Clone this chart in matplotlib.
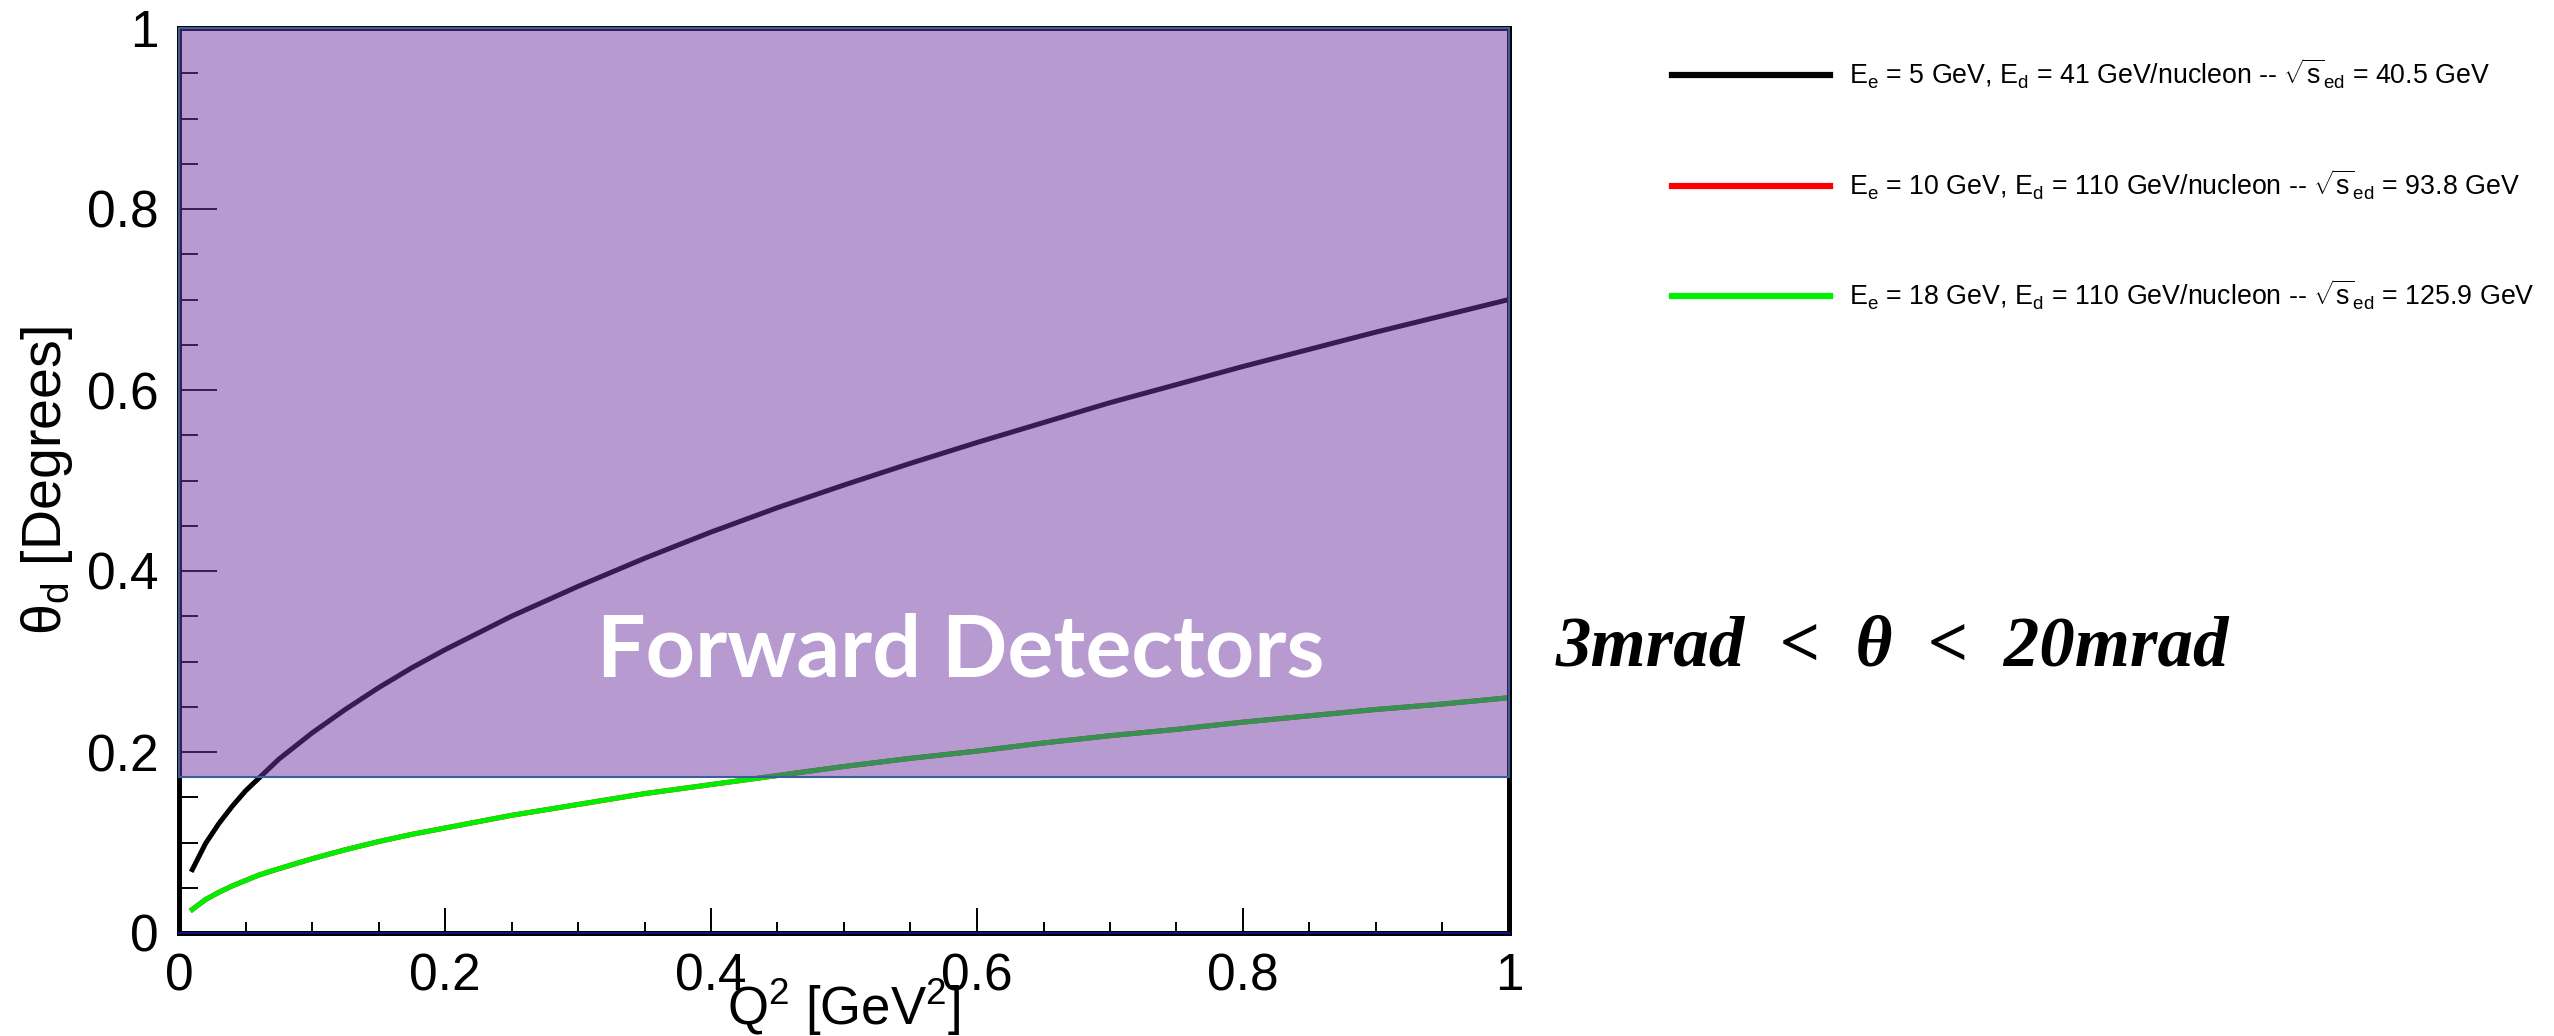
import numpy as np
import matplotlib
matplotlib.use('Agg')
import matplotlib.pyplot as plt
from matplotlib.patches import Rectangle
from matplotlib.ticker import MultipleLocator, FixedLocator, FixedFormatter
from matplotlib.colors import to_rgba

plt.rcParams['font.family'] = ['Liberation Sans', 'DejaVu Sans']
plt.rcParams['mathtext.fontset'] = 'custom'
plt.rcParams['mathtext.rm'] = 'Liberation Sans'
plt.rcParams['mathtext.it'] = 'Liberation Sans:italic'
plt.rcParams['mathtext.bf'] = 'Liberation Sans:bold'

# deuteron scattering angle vs Q^2
q2 = [0.01, 0.02, 0.03, 0.04, 0.05, 0.06, 0.075, 0.1, 0.125, 0.15, 0.175, 0.2, 0.25,
      0.3, 0.35, 0.4, 0.45, 0.5, 0.55, 0.6, 0.65, 0.7, 0.75, 0.8, 0.85, 0.9, 0.95, 1.0]
theta_5x41 = [0.070, 0.099, 0.121, 0.140, 0.157, 0.171, 0.192, 0.221, 0.247, 0.271,
              0.293, 0.313, 0.350, 0.383, 0.414, 0.443, 0.470, 0.495, 0.519, 0.542,
              0.564, 0.586, 0.606, 0.626, 0.645, 0.664, 0.682, 0.700]
theta_10x110 = [0.026, 0.037, 0.045, 0.052, 0.058, 0.064, 0.071, 0.082, 0.092, 0.101,
                0.109, 0.116, 0.130, 0.142, 0.154, 0.164, 0.174, 0.184, 0.193, 0.201,
                0.210, 0.218, 0.225, 0.233, 0.240, 0.247, 0.253, 0.260]
theta_18x110 = [0.026, 0.037, 0.045, 0.052, 0.058, 0.064, 0.071, 0.082, 0.092, 0.101,
                0.109, 0.116, 0.130, 0.142, 0.154, 0.164, 0.174, 0.184, 0.193, 0.201,
                0.210, 0.218, 0.225, 0.233, 0.240, 0.247, 0.253, 0.260]

labels = [r'E$_{\mathrm{e}}$ = 5 GeV, E$_{\mathrm{d}}$ = 41 GeV/nucleon -- $\sqrt{\mathrm{s}}_{\mathrm{ed}}$ = 40.5 GeV',
          r'E$_{\mathrm{e}}$ = 10 GeV, E$_{\mathrm{d}}$ = 110 GeV/nucleon -- $\sqrt{\mathrm{s}}_{\mathrm{ed}}$ = 93.8 GeV',
          r'E$_{\mathrm{e}}$ = 18 GeV, E$_{\mathrm{d}}$ = 110 GeV/nucleon -- $\sqrt{\mathrm{s}}_{\mathrm{ed}}$ = 125.9 GeV']

# forward detector acceptance in mrad
acc_min_mrad = 3
acc_max_mrad = 20

xticks = [0, 0.2, 0.4, 0.6, 0.8, 1.0]
xtick_labels = ['0', '0.2', '0.4', '0.6', '0.8', '1']
yticks = [0, 0.2, 0.4, 0.6, 0.8, 1.0]
ytick_labels = ['0', '0.2', '0.4', '0.6', '0.8', '1']

fig = plt.figure(figsize=(25.54, 10.36), dpi=100)
ax = fig.add_axes([179 / 2554, 103 / 1036, 1330 / 2554, 905 / 1036])

l1, = ax.plot(q2, theta_5x41, color='black', lw=3.6, zorder=2)
l2, = ax.plot(q2, theta_10x110, color='#ff0000', lw=3.6, zorder=2)
l3, = ax.plot(q2, theta_18x110, color='#00ee00', lw=3.6, zorder=2.1)

ax.set_xlim(0, 1)
ax.set_ylim(0, 1)

ax.xaxis.set_major_locator(FixedLocator(xticks))
ax.xaxis.set_major_formatter(FixedFormatter(xtick_labels))
ax.yaxis.set_major_locator(FixedLocator(yticks))
ax.yaxis.set_major_formatter(FixedFormatter(ytick_labels))
ax.xaxis.set_minor_locator(MultipleLocator(0.05))
ax.yaxis.set_minor_locator(MultipleLocator(0.05))
ax.tick_params(axis='both', which='both', direction='in', color='black', width=1.4,
               top=False, right=False, labelsize=37)
ax.tick_params(axis='y', which='major', length=27, pad=15)
ax.tick_params(axis='y', which='minor', length=14)
ax.tick_params(axis='x', which='major', length=18, pad=14)
ax.tick_params(axis='x', which='minor', length=8)

for s in ax.spines.values():
    s.set_linewidth(3.6)
    s.set_color('black')
ax.axhline(0, color='#12128c', lw=1.3, zorder=5, clip_on=False)

# acceptance band, drawn over the curves
lo = np.degrees(acc_min_mrad / 1000)
hi = min(np.degrees(acc_max_mrad / 1000), 1.0)
band = Rectangle((0, lo), 1, hi - lo, facecolor=to_rgba('#6f36a3', 0.5),
                 edgecolor='#3b5e9a', lw=1.5, zorder=4, clip_on=False)
ax.add_patch(band)

ax.text(0.588, 0.31, 'Forward Detectors', color='white', fontsize=62,
        fontfamily='Lato', fontweight='bold', ha='center', va='center', zorder=6)

ax.set_xlabel(r'Q$^{2}$ [GeV$^{2}$]', fontsize=38)
ax.xaxis.set_label_coords(0.5, -0.048)
ax.set_ylabel(r'θ$_{\mathrm{d}}$ [Degrees]', fontsize=40, va='center')
ax.yaxis.set_label_coords(-0.099, 0.5)

fig.text(1556 / 2554, 0.3745, '3mrad  <  θ  <  20mrad', fontsize=51,
         fontfamily='Liberation Serif', fontstyle='italic', fontweight='bold',
         ha='left', va='center')

leg = fig.legend([l1, l2, l3], labels, loc='upper left', bbox_to_anchor=(1672 / 2554, 0.945),
                 frameon=False, fontsize=19.3, handlelength=5.9, handletextpad=0.7,
                 labelspacing=2.85, borderaxespad=0, borderpad=0)
for h in leg.get_lines():
    h.set_linewidth(4.5)

plt.savefig('out.png', dpi=100)
